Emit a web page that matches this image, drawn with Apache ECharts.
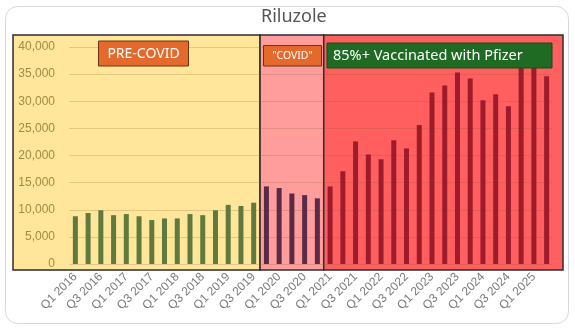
<!DOCTYPE html>
<html><head><meta charset="utf-8">
<script src="https://cdn.jsdelivr.net/npm/echarts@6/dist/echarts.min.js"></script>
<style>html,body{margin:0;padding:0;background:#fff}#c{width:575px;height:332px}</style>
</head><body><div id="c"></div>
<script>
const categories = [
  'Q1 2016','Q2 2016','Q3 2016','Q4 2016',
  'Q1 2017','Q2 2017','Q3 2017','Q4 2017',
  'Q1 2018','Q2 2018','Q3 2018','Q4 2018',
  'Q1 2019','Q2 2019','Q3 2019','Q4 2019',
  'Q1 2020','Q2 2020','Q3 2020','Q4 2020',
  'Q1 2021','Q2 2021','Q3 2021','Q4 2021',
  'Q1 2022','Q2 2022','Q3 2022','Q4 2022',
  'Q1 2023','Q2 2023','Q3 2023','Q4 2023',
  'Q1 2024','Q2 2024','Q3 2024','Q4 2024',
  'Q1 2025','Q2 2025'
];
const preCovidValues = [8800, 9400, 9900, 9000, 9200, 8800, 8100, 8400, 8400, 9200, 9000, 9900, 10900, 10700, 11300];
const covidValues = [14300, 14000, 13000, 12700, 12100];
const vaccinatedValues = [14300, 17100, 22600, 20200, 19300, 22800, 21300, 25600, 31600, 32900, 35300, 34200, 30200, 31300, 29100, 38500, 38000, 34600];
const regionLabels = ['PRE-COVID', '"COVID"', '85%+ Vaccinated with Pfizer'];
const yTicks = [0, 5000, 10000, 15000, 20000, 25000, 30000, 35000, 40000];

const regionBar = ['#5f7a3c', '#5a2b46', '#9e1b2b'];
const regionBg = ['#ffe69b', '#ff9d9d', '#ff5f5f'];

const allValues = preCovidValues.concat(covidValues, vaccinatedValues);
const regionOf = i => i < preCovidValues.length ? 0 : (i < preCovidValues.length + covidValues.length ? 1 : 2);

const chart = echarts.init(document.getElementById('c'));
chart.setOption({
  animation: false,
  backgroundColor: '#ffffff',
  title: {
    text: 'Riluzole', left: 256, top: 3,
    textStyle: { fontFamily: 'Noto Sans', fontSize: 18, fontWeight: 'normal', color: '#555555' }
  },
  grid: { left: 69, right: 22, top: 47, bottom: 68 },
  xAxis: {
    type: 'category', data: categories,
    axisLine: { show: false }, axisTick: { show: false },
    axisLabel: { interval: 1, rotate: 45, margin: 11, fontSize: 12, color: '#7b7b7b', fontFamily: 'Liberation Sans' }
  },
  yAxis: {
    type: 'value', min: yTicks[0], max: yTicks[yTicks.length - 1], interval: yTicks[1] - yTicks[0],
    axisLine: { show: false }, axisTick: { show: false },
    axisLabel: { margin: 14, fontSize: 12, color: '#a38b45', fontFamily: 'Liberation Sans',
      formatter: v => v.toLocaleString('en-US') },
    splitLine: { lineStyle: { color: 'rgba(130,90,30,0.22)', width: 1 } }
  },
  series: [{
    type: 'bar', barWidth: 5,
    data: allValues.map((v, i) => ({ value: v, itemStyle: { color: regionBar[regionOf(i)] } }))
  }]
});

const px = c => chart.convertToPixel({ xAxisIndex: 0 }, c);
const half = (px(categories[1]) - px(categories[0])) / 2;
const b1 = px(categories[preCovidValues.length]) - half;
const b2 = px(categories[preCovidValues.length + covidValues.length]) - half;
const L = 13, R = 563, T = 35, B = 270;
const edges = [L, b1, b2, R];

const graphics = [{
  type: 'rect', z: -30, silent: true,
  shape: { x: 5.5, y: 6.5, width: 563, height: 317, r: 12 },
  style: { fill: '#ffffff', stroke: '#d6dade', lineWidth: 1 }
}];
for (let k = 0; k < 3; k++) {
  graphics.push({
    type: 'rect', z: -10, silent: true,
    shape: { x: edges[k], y: T, width: edges[k + 1] - edges[k], height: B - T },
    style: { fill: regionBg[k], stroke: '#2d2d2d', lineWidth: 1.5 }
  });
}
const banners = [
  { x: 98.5, y: 41, w: 90, h: 25, fill: '#e4692d', stroke: '#6e3515', fs: 14 },
  { x: 263.5, y: 45.5, w: 58, h: 20.5, fill: '#e4692d', stroke: '#6e3515', fs: 10.5 },
  { x: 327, y: 43, w: 225, h: 25, fill: '#1f6b23', stroke: '#174f1a', fs: 14.5 }
];
banners.forEach((b, k) => {
  graphics.push({
    type: 'rect', z: 50, silent: true,
    shape: { x: b.x, y: b.y, width: b.w, height: b.h },
    style: { fill: b.fill, stroke: b.stroke, lineWidth: 1 }
  });
  graphics.push({
    type: 'text', z: 51, silent: true,
    x: k === 2 ? b.x + 6 : b.x + b.w / 2, y: b.y + b.h / 2 + 0.5,
    style: { text: regionLabels[k], fill: '#ffffff', fontSize: b.fs, fontFamily: 'Noto Sans',
      align: k === 2 ? 'left' : 'center', verticalAlign: 'middle' }
  });
});
chart.setOption({ graphic: graphics });
</script>
</body></html>
